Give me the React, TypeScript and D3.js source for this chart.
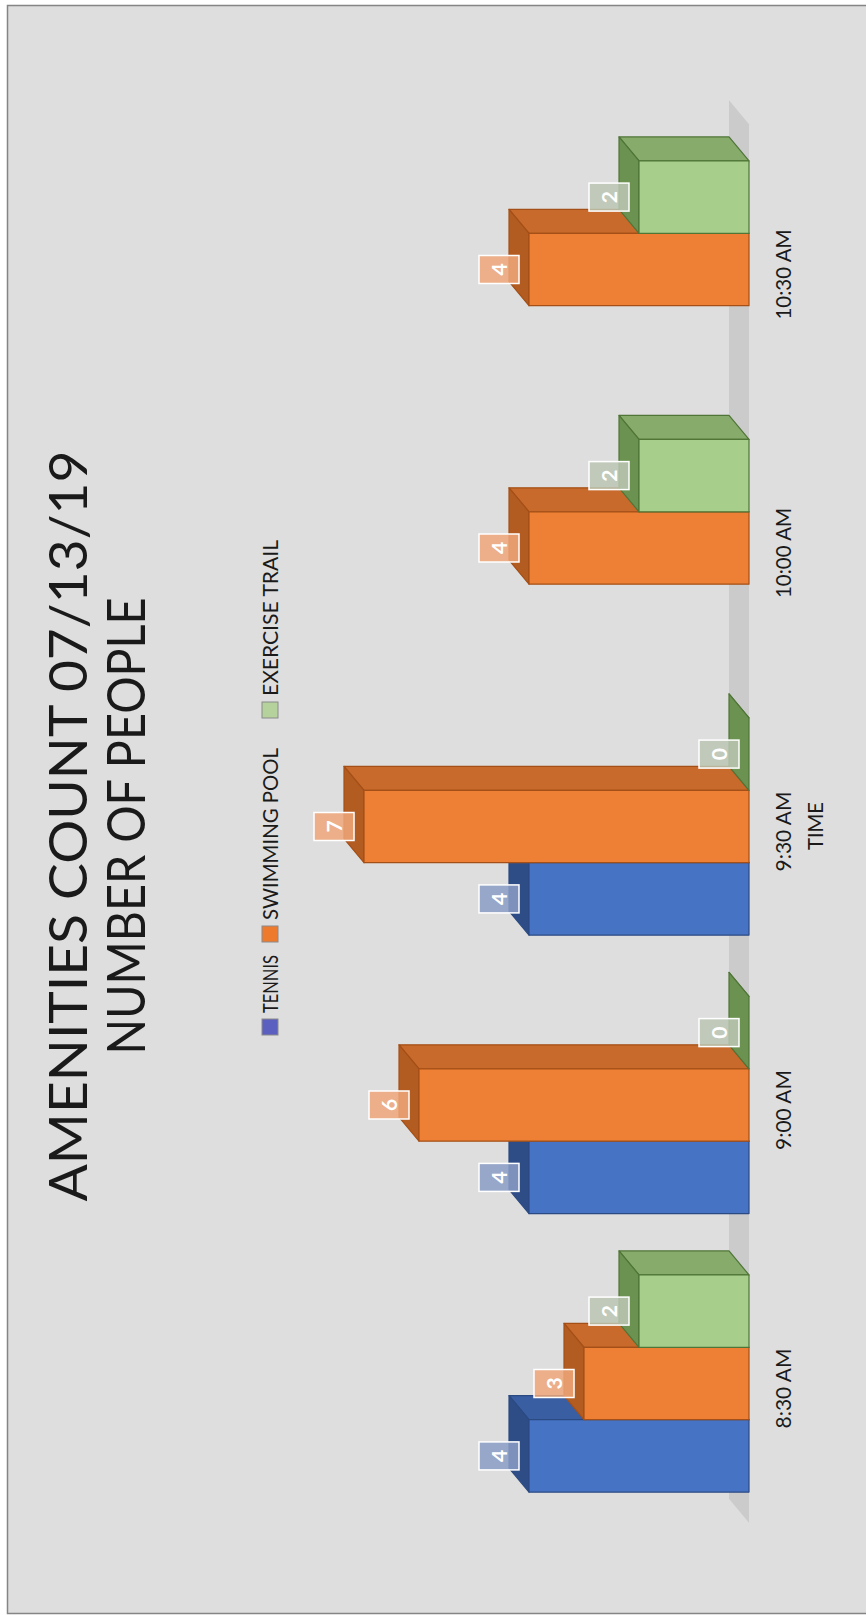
import React from 'react';
import * as d3 from 'd3';

// ---------- data ----------
const categories = ['8:30 AM', '9:00 AM', '9:30 AM', '10:00 AM', '10:30 AM'];
const seriesNames = ['TENNIS', 'SWIMMING POOL', 'EXERCISE TRAIL'];
const tennis: (number | null)[] = [4, 4, 4, null, null];
const swimmingPool: (number | null)[] = [3, 6, 7, 4, 4];
const exerciseTrail: (number | null)[] = [2, 0, 0, 2, 2];
const titleLines = ['AMENITIES COUNT 07/13/19', 'NUMBER OF PEOPLE'];
const axisTitle = 'TIME';

// ---------- styles ----------
const seriesStyles = [
  { front: '#4673c4', top: '#2e4c86', side: '#3a5ea2', stroke: '#2b4a82', legend: '#5a5fc0', label: '#8b9dc6' },
  { front: '#ee8035', top: '#b35c22', side: '#c76a2b', stroke: '#a44f17', legend: '#ee7a2e', label: '#eea77a' },
  { front: '#a7cf8b', top: '#6c9251', side: '#86ab6b', stroke: '#4f7537', legend: '#b5d19c', label: '#bcc7b4' },
];
const seriesValues = [tennis, swimmingPool, exerciseTrail];

const W = 866;
const H = 1618;
const FONT = "Lato, 'Open Sans', 'Liberation Sans', sans-serif";

export default function App() {
  // chart drawn in un-rotated coordinates (u along categories, v down), then rotated -90deg
  const x = d3.scaleBand<string>().domain(categories).range([95.25, 1487.75]).paddingInner(0.22).paddingOuter(0.11);
  const xs = d3.scaleBand<string>().domain(seriesNames).range([0, x.bandwidth()]);
  const y = d3.scaleLinear().domain([0, 7]).range([749, 749 - 7 * 55]);
  const ox = 24;
  const oy = -20;
  const base = y(0);
  const bw = xs.bandwidth();
  const [u0, u1] = x.range();

  const bars: React.ReactNode[] = [];
  const labels: React.ReactNode[] = [];
  categories.forEach((cat, i) => {
    seriesNames.forEach((s, j) => {
      const val = seriesValues[j][i];
      if (val === null || val === undefined) return;
      const st = seriesStyles[j];
      const x0 = (x(cat) as number) + (xs(s) as number);
      const x1 = x0 + bw;
      const yv = y(val);
      const pts = (p: number[][]) => p.map((q) => q.join(',')).join(' ');
      bars.push(
        <g key={`b${i}-${j}`} strokeWidth={1.2} strokeLinejoin="round">
          <polygon points={pts([[x1, yv], [x1, base], [x1 + ox, base + oy], [x1 + ox, yv + oy]])} fill={st.side} stroke={st.stroke} />
          <polygon points={pts([[x0, yv], [x1, yv], [x1 + ox, yv + oy], [x0 + ox, yv + oy]])} fill={st.top} stroke={st.stroke} />
          {base - yv > 0 && <rect x={x0} y={yv} width={bw} height={base - yv} fill={st.front} stroke={st.stroke} />}
        </g>
      );
      const lc = (x0 + x1) / 2;
      const lv = yv - 30;
      labels.push(
        <g key={`l${i}-${j}`}>
          <rect x={lc - 14} y={lv - 20} width={28} height={40} fill={st.label} fillOpacity={0.85} stroke="#ffffff" strokeWidth={1.5} />
          <text x={lc} y={lv + 7.5} textAnchor="middle" fontFamily={FONT} fontSize={21} fontWeight="bold" fill="#ffffff">
            {val}
          </text>
        </g>
      );
    });
  });

  // legend layout
  const legendMarkers = [583, 676, 900];
  const legendLengths = [58, 172, 156];
  const legendV = 270;
  const legendItems = seriesNames.map((s, j) => {
    const mu = legendMarkers[j];
    const tu = mu + 16 + 6;
    return (
      <g key={`lg${j}`}>
        <rect x={mu} y={legendV - 8} width={16} height={16} fill={seriesStyles[j].legend} stroke="#8a8a8a" strokeWidth={1} />
        <text x={tu} y={legendV + 7.5} fontFamily={FONT} fontSize={21} fill="#1a1a1a" textLength={legendLengths[j]} lengthAdjust="spacingAndGlyphs">
          {s}
        </text>
      </g>
    );
  });

  const catLabelLengths = [80, 80, 80, 90, 90];

  return (
    <svg width={W} height={H} style={{ position: 'absolute', left: 0, top: 0, display: 'block' }}>
      <rect x={0} y={0} width={W} height={H} fill="#ffffff" />
      <rect x={7.5} y={5.5} width={W + 20} height={1608} fill="#dedede" stroke="#858585" strokeWidth={1.5} />
      <g transform={`translate(0,${H}) rotate(-90)`}>
        {/* floor */}
        <polygon
          points={[[u0, base], [u1 + 6, base], [u1 + 6 + ox, base + oy], [u0 + ox, base + oy]].map((q) => q.join(',')).join(' ')}
          fill="#cbcbcb"
        />
        {bars}
        {labels}
        {categories.map((c, i) => (
          <text
            key={`c${i}`}
            x={(x(c) as number) + x.bandwidth() / 2 - 5}
            y={791}
            textAnchor="middle"
            fontFamily={FONT}
            fontSize={21.5}
            fill="#1a1a1a"
            textLength={catLabelLengths[i]}
            lengthAdjust="spacingAndGlyphs"
          >
            {c}
          </text>
        ))}
        <text x={792} y={823} textAnchor="middle" fontFamily={FONT} fontSize={21.5} fill="#1a1a1a" textLength={48} lengthAdjust="spacingAndGlyphs">
          {axisTitle}
        </text>
        <text x={792} y={87} textAnchor="middle" fontFamily={FONT} fontSize={52} fill="#1a1a1a" textLength={751} lengthAdjust="spacingAndGlyphs">
          {titleLines[0]}
        </text>
        <text x={792} y={145} textAnchor="middle" fontFamily={FONT} fontSize={52} fill="#1a1a1a" textLength={457} lengthAdjust="spacingAndGlyphs">
          {titleLines[1]}
        </text>
        {legendItems}
      </g>
    </svg>
  );
}
